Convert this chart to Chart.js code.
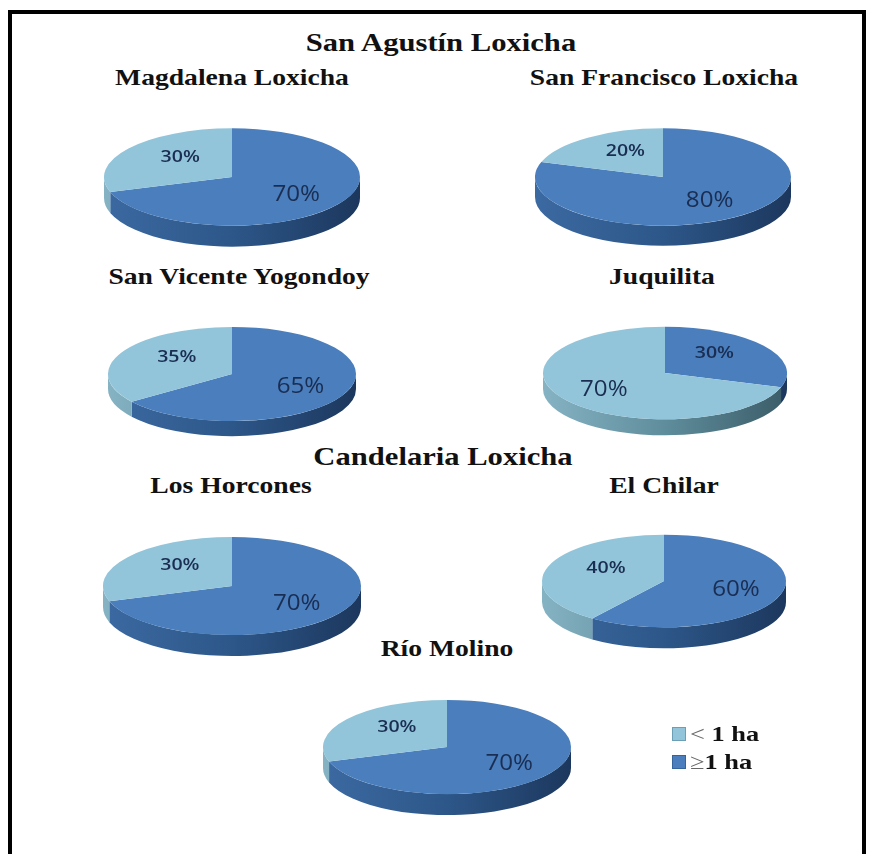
<!DOCTYPE html>
<html>
<head>
<meta charset="utf-8">
<script src="https://cdn.jsdelivr.net/npm/chart.js@4.4.1/dist/chart.umd.min.js"></script>
<style>
  html, body { margin: 0; padding: 0; background: #fff; }
  #page { position: relative; width: 873px; height: 854px; overflow: hidden; background: #fff; }
  .bar { position: absolute; background: #000; }
  .ttl { position: absolute; font-family: "Liberation Serif", "Times New Roman", serif; font-weight: bold;
         color: #111; white-space: nowrap; line-height: 1; }
  .pie { position: absolute; pointer-events: none; }
  .lg { position: absolute; font-family: "Liberation Serif", "Times New Roman", serif; font-weight: bold;
        color: #111; white-space: nowrap; line-height: 1; font-size: 22px; transform-origin: left center; transform: scaleX(1.2); }
  .lg .sym { font-weight: normal; color: #666; }
  .sw { position: absolute; width: 12px; height: 12px; }
</style>
</head>
<body>
<div id="page"></div>
<script>
// Farm size shares (%) per community
const categories   = ['≥ 1 ha', '< 1 ha'];
const communities  = ['Magdalena Loxicha', 'San Francisco Loxicha', 'San Vicente Yogondoy', 'Juquilita',
                      'Los Horcones', 'El Chilar', 'Río Molino'];
const largeFarms   = [70, 80, 65, 30, 70, 60, 70];   // ≥ 1 ha
const smallFarms   = [30, 20, 35, 70, 30, 40, 30];   // < 1 ha
const groupTitles  = ['San Agustín Loxicha', 'Candelaria Loxicha'];

// Colours
const TOP_DARK = '#4a7ebc';
const TOP_LIGHT = '#93c5da';
const SIDE_DARK = ['#3b69a1', '#2d5789', '#1c375d'];
const SIDE_LIGHT = ['#86b3c3', '#5f8d9c', '#3b5c68'];
const LABEL_COLOR = '#1a2d52';

// Page layout: pie centre, horizontal radius, extrusion depth
const TILT = 0.38;
const pieLayout = [
  { cx: 232, cy: 177, rx: 128, depth: 21 },
  { cx: 663, cy: 177, rx: 128, depth: 20 },
  { cx: 232, cy: 374, rx: 124, depth: 15 },
  { cx: 665, cy: 373, rx: 122, depth: 16 },
  { cx: 232, cy: 586, rx: 129, depth: 21 },
  { cx: 664, cy: 581, rx: 122, depth: 21 },
  { cx: 447, cy: 747, rx: 124, depth: 21 }
];
const titleLayout = [
  { x: 232, y: 78 }, { x: 664, y: 78 }, { x: 239, y: 277 }, { x: 662, y: 277 },
  { x: 231, y: 486 }, { x: 664, y: 486 }, { x: 447, y: 649 }
];
const groupLayout = [ { x: 441, y: 43, size: 25.5 }, { x: 443, y: 457, size: 25.5 } ];

const page = document.getElementById('page');

// Frame
[[8, 10, 858, 4], [8, 10, 4, 844], [862, 10, 4, 844]].forEach(([l, t, w, h]) => {
  const d = document.createElement('div');
  d.className = 'bar';
  Object.assign(d.style, { left: l + 'px', top: t + 'px', width: w + 'px', height: h + 'px' });
  page.appendChild(d);
});

function addTitle(text, x, y, size) {
  const d = document.createElement('div');
  d.className = 'ttl';
  d.textContent = text;
  d.style.fontSize = size + 'px';
  d.style.left = x + 'px';
  d.style.top = (y - 0.506 * size) + 'px';
  d.style.transform = 'translateX(-50%) scaleX(1.2)';
  page.appendChild(d);
}
groupTitles.forEach((t, i) => addTitle(t, groupLayout[i].x, groupLayout[i].y, groupLayout[i].size));
communities.forEach((t, i) => addTitle(t, titleLayout[i].x, titleLayout[i].y, 23));

// Draws the tilted pie: extruded side wall, squashed top face, then value labels
const tiltPlugin = {
  id: 'tilt',
  beforeDatasetsDraw(chart, args, opts) {
    const ctx = chart.ctx;
    const arcs = chart.getDatasetMeta(0).data;
    const { x: cx, y: cy, outerRadius: r } = arcs[0];
    const ry = r * opts.k;
    const d = opts.depth;
    const grads = [SIDE_DARK, SIDE_LIGHT].map(c => {
      const g = ctx.createLinearGradient(cx - r, 0, cx + r, 0);
      g.addColorStop(0, c[0]); g.addColorStop(0.5, c[1]); g.addColorStop(1, c[2]);
      return g;
    });
    arcs.forEach((arc, i) => {
      for (const shift of [0, 2 * Math.PI, -2 * Math.PI]) {
        const s = Math.max(arc.startAngle + shift, 0);
        const e = Math.min(arc.endAngle + shift, Math.PI);
        if (e <= s) continue;
        ctx.beginPath();
        ctx.ellipse(cx, cy, r, ry, 0, s, e, false);
        ctx.ellipse(cx, cy + d, r, ry, 0, e, s, true);
        ctx.closePath();
        ctx.fillStyle = grads[i];
        ctx.fill();
      }
    });
    ctx.save();
    ctx.translate(cx, cy);
    ctx.scale(1, opts.k);
    ctx.translate(-cx, -cy);
  },
  afterDatasetsDraw(chart, args, opts) {
    const ctx = chart.ctx;
    ctx.restore();
    const arcs = chart.getDatasetMeta(0).data;
    const values = chart.data.datasets[0].data;
    const { x: cx, y: cy, outerRadius: r } = arcs[0];
    const ry = r * opts.k;
    arcs.forEach((arc, i) => {
      const v = values[i];
      const big = v >= 50;
      const mid = (arc.startAngle + arc.endAngle) / 2;
      const f = big ? 0.62 : 0.5;
      const x = cx + Math.cos(mid) * r * f;
      const y = cy + Math.sin(mid) * ry * f + (big ? 0 : -6);
      ctx.save();
      ctx.translate(x, y);
      ctx.scale(1.15, 1);
      ctx.font = big ? '400 21px "Open Sans", Lato, sans-serif' : '600 17px "Open Sans", Lato, sans-serif';
      ctx.fillStyle = LABEL_COLOR;
      ctx.textAlign = 'center';
      ctx.textBaseline = 'middle';
      ctx.fillText(v + '%', 0, 0);
      ctx.restore();
    });
  }
};

pieLayout.forEach((p, i) => {
  const size = 2 * p.rx;
  const cv = document.createElement('canvas');
  cv.className = 'pie';
  cv.width = size; cv.height = size;
  cv.style.left = (p.cx - p.rx) + 'px';
  cv.style.top = (p.cy - p.rx) + 'px';
  cv.style.width = size + 'px'; cv.style.height = size + 'px';
  page.appendChild(cv);
  new Chart(cv, {
    type: 'pie',
    data: {
      labels: categories,
      datasets: [{ data: [largeFarms[i], smallFarms[i]], backgroundColor: [TOP_DARK, TOP_LIGHT], borderWidth: 0 }]
    },
    options: {
      responsive: false, animation: false, events: [],
      layout: { padding: 0 },
      plugins: { legend: { display: false }, tooltip: { enabled: false }, tilt: { k: TILT, depth: p.depth } }
    },
    plugins: [tiltPlugin]
  });
});

// Legend
[[TOP_LIGHT, '#6a9fb5', '<', ' 1 ha', 727], [TOP_DARK, '#35639b', '≥', '1 ha', 755]].forEach(([fill, edge, sym, txt, y]) => {
  const sw = document.createElement('div');
  sw.className = 'sw';
  Object.assign(sw.style, { left: '672px', top: y + 'px', background: fill, border: '1px solid ' + edge });
  page.appendChild(sw);
  const t = document.createElement('div');
  t.className = 'lg';
  t.style.left = '690px';
  t.style.top = (y - 4) + 'px';
  const s = document.createElement('span');
  s.className = 'sym';
  s.textContent = sym;
  t.appendChild(s);
  t.appendChild(document.createTextNode(txt));
  page.appendChild(t);
});
</script>
</body>
</html>
